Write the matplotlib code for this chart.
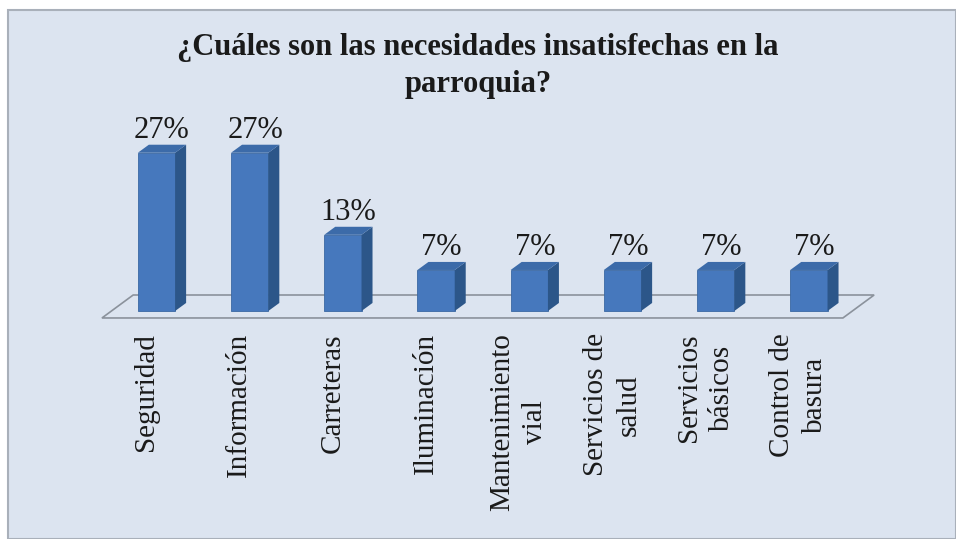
import numpy as np
import matplotlib.pyplot as plt
from matplotlib.patches import Polygon, Rectangle

categories = ["Seguridad", "Información", "Carreteras", "Iluminación",
              "Mantenimiento\nvial", "Servicios de\nsalud", "Servicios\nbásicos",
              "Control de\nbasura"]
values = [27, 27, 13, 7, 7, 7, 7, 7]
title = "¿Cuáles son las necesidades insatisfechas en la\nparroquia?"

plt.rcParams['font.family'] = ['Liberation Serif', 'DejaVu Serif']

bg = '#dce4f0'
front_c = '#4678bd'
side_c = '#2c5689'
top_c = '#3c6ba9'

fig = plt.figure(figsize=(9.56, 5.39), dpi=100)
fig.patch.set_facecolor('white')

# chart area background with border
fig.patches.append(Rectangle((8 / 956, 0), 948 / 956, 529 / 539, transform=fig.transFigure,
                             facecolor=bg, edgecolor='#a9b0ba', linewidth=1.5, zorder=-1))

ax = fig.add_axes([100 / 956, (539 - 311) / 539, 780 / 956, 211 / 539])
ax.set_facecolor('none')
ax.set_xlim(-0.606, 7.763)
ax.set_ylim(0, 36.0)
ax.axis('off')

n = len(values)
x = np.arange(n)
w = 0.4
dx = 0.118   # depth offset in x (data units)
dy = 1.37    # depth offset in y (data units)

# floor
fdx = 0.335
fl, fr = -0.585, n - 1 + 0.365
floor = Polygon([(fl, -1.19), (fr, -1.19), (fr + fdx, 2.73), (fl + fdx, 2.73)],
                closed=True, facecolor=bg, edgecolor='#8b929c', linewidth=1.2,
                clip_on=False, zorder=1)
ax.add_patch(floor)

ax.bar(x, values, width=w, color=front_c, edgecolor='#3a68a3', linewidth=0.6,
       zorder=3, clip_on=False)
for xi, v in zip(x, values):
    l, r = xi - w / 2, xi + w / 2
    side = Polygon([(r, 0), (r + dx, dy), (r + dx, v + dy), (r, v)],
                   closed=True, facecolor=side_c, edgecolor='none', zorder=3, clip_on=False)
    top = Polygon([(l, v), (r, v), (r + dx, v + dy), (l + dx, v + dy)],
                  closed=True, facecolor=top_c, edgecolor='none', zorder=3, clip_on=False)
    ax.add_patch(side)
    ax.add_patch(top)
    ax.annotate(f"{v}%", (xi + dx / 2, v + dy), xytext=(0, 5), textcoords='offset points',
                ha='center', va='baseline', fontsize=22, color='#1a1a1a', annotation_clip=False)

for xi, lab in zip(x, categories):
    ax.annotate(lab, (xi, 0), xytext=(-7.5, -16), textcoords='offset points',
                rotation=90, ha='center', va='top', multialignment='center',
                fontsize=21, linespacing=1.35, color='#1a1a1a', annotation_clip=False)

fig.text(0.5, 1 - 66 / 539, title, ha='center', va='center', fontsize=22,
         fontweight='bold', linespacing=1.35, color='#1a1a1a')

fig.savefig('out.png', dpi=100)
